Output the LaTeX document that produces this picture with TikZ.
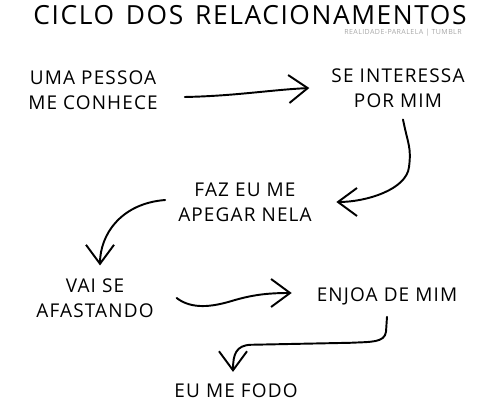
\documentclass[tikz,border=0pt]{standalone}
\usepackage{fontspec}
\setmainfont{Open Sans}[LetterSpace=6]
\usetikzlibrary{positioning, arrows.meta}

\begin{document}
\begin{tikzpicture}[
      every node/.style={font=\fontsize{10.8}{14.2}\selectfont, align=center, inner sep=1pt},
      stage/.style={align=center},
      arr/.style={line width=1.1pt, line cap=round, line join=round,
                  -{Straight Barb[length=3.8mm, width=5.6mm, line width=1.1pt]}},
    ]
    \useasboundingbox (0,0) rectangle (10,8.12);
    % title and credit
    \node (titulo) at (5.0,7.82)
      {\fontsize{15}{19}\selectfont CICLO\hspace{0.45em}DOS\hspace{0.45em}RELACIONAMENTOS};
    \node[anchor=east, text=black!35, inner sep=0pt] (credito) at (9.24,7.46)
      {\fontsize{4}{5}\selectfont REALIDADE-PARALELA | TUMBLR};
    % the stages
    \node[stage] (pessoa)    at (1.86,6.32) {UMA PESSOA\\ME CONHECE};
    \node[stage] (interessa) at (7.96,6.36) {SE INTERESSA\\POR MIM};
    \node[stage] (apegar)    at (4.9,4.08)  {FAZ EU ME\\APEGAR NELA};
    \node[stage] (afastando) at (1.9,2.16)  {VAI SE\\AFASTANDO};
    \node[stage] (enjoa)     at (7.74,2.2)  {ENJOA DE MIM};
    \node[stage] (fodo)      at (4.72,0.3)  {EU ME FODO};
    % hand drawn arrows
    \draw[arr] ([xshift=5mm, yshift=-1.4mm]pessoa.east)
      .. controls +(1,0.02) and +(-0.8,-0.04) .. ([xshift=-4mm]interessa.west);
    \draw[arr] ([xshift=1mm, yshift=-2mm]interessa.south)
      .. controls +(0.1,-0.5) and +(0.05,0.4) .. ++(0.12,-0.95)
      .. controls +(-0.05,-0.45) and +(0.6,0) .. ([xshift=4.5mm]apegar.east);
    \draw[arr] ([xshift=-2.2mm, yshift=0.4mm]apegar.west)
      .. controls +(-0.9,-0.07) and +(0,0.6) .. ([xshift=1mm, yshift=2.2mm]afastando.north);
    \draw[arr] ([xshift=4.2mm]afastando.east)
      .. controls +(0.3,-0.23) and +(-0.4,-0.12) .. ++(1.1,-0.06)
      .. controls +(0.4,0.12) and +(-0.5,0) .. ([xshift=-4.6mm, yshift=0.6mm]enjoa.west);
    \draw[arr] ([yshift=-2mm]enjoa.south)
      -- ++(-0.02,-0.3)
      .. controls +(-0.03,-0.22) and +(0.4,0.02) .. ++(-0.7,-0.22)
      -- ++(-2.0,-0.04)
      .. controls +(-0.3,-0.01) and +(0,0.35) .. ([xshift=-0.6mm, yshift=2mm]fodo.north);
  \end{tikzpicture}
\end{document}
